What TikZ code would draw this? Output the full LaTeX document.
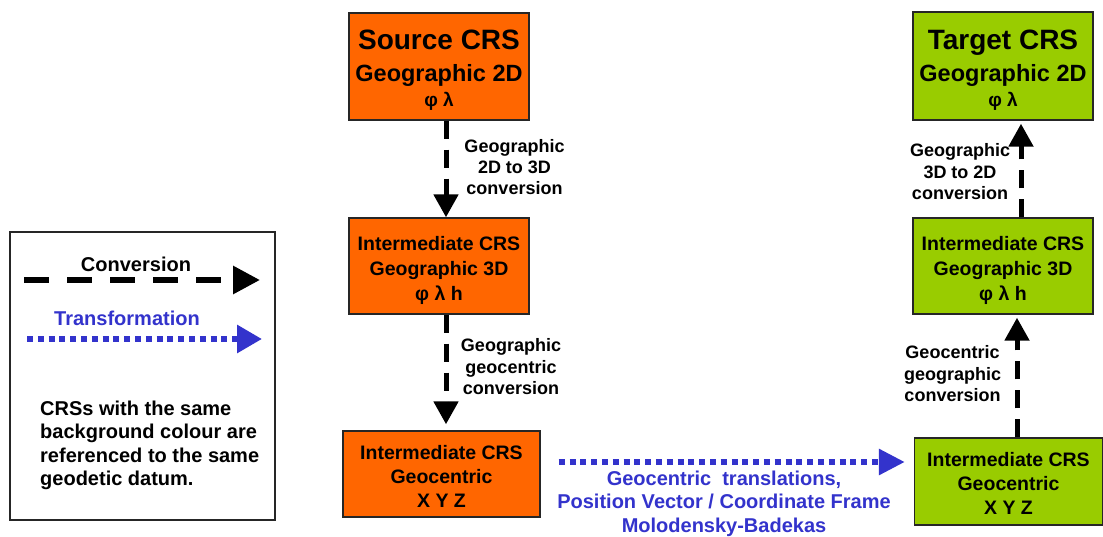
\documentclass[tikz,border=0pt]{standalone}
\usepackage{fontspec}
\setmainfont{Liberation Sans}
\usetikzlibrary{arrows.meta}
\definecolor{crsorange}{HTML}{FF6600}
\definecolor{crsgreen}{HTML}{99CC00}
\definecolor{trblue}{HTML}{3333CC}
\begin{document}
\begin{tikzpicture}[x=1pt,y=-1pt,
  crsbox/.style={draw=black!85, line width=1.4pt, inner sep=0pt},
  ttl/.style={anchor=base, inner sep=0pt, font=\fontsize{28}{32}\selectfont\bfseries},
  sub/.style={anchor=base, inner sep=0pt, font=\fontsize{23.5}{27}\selectfont\bfseries},
  grk/.style={anchor=base, inner sep=0pt, font=\fontsize{19}{22}\selectfont\bfseries},
  mid/.style={anchor=base, inner sep=0pt, font=\fontsize{19.5}{23}\selectfont\bfseries},
  lbl/.style={anchor=base, inner sep=0pt, font=\fontsize{18}{21}\selectfont\bfseries},
  blbl/.style={anchor=base, inner sep=0pt, text=trblue, font=\fontsize{20}{23}\selectfont\bfseries},
  lgd/.style={anchor=base west, inner sep=0pt, font=\fontsize{20}{23.5}\selectfont\bfseries},
  convarrow/.style={line width=5pt, dash pattern=on 18pt off 11pt, -{Triangle[length=23pt,width=24pt]}},
  transarrow/.style={trblue, line width=6pt, dash pattern=on 6pt off 4.8pt, -{Triangle[length=26pt,width=25pt]}}
]
\useasboundingbox (0,0) rectangle (1103,537);
\fill[white] (0,0) rectangle (1103,537);

% ---- CRS boxes
\node[crsbox, fill=crsorange, minimum width=180pt, minimum height=107pt] (src) at (439,66.5) {};
\node[crsbox, fill=crsorange, minimum width=180pt, minimum height=96pt] (l3d) at (439,266) {};
\node[crsbox, fill=crsorange, minimum width=197pt, minimum height=86pt] (lgeo) at (441.5,474) {};
\node[crsbox, fill=crsgreen, minimum width=180pt, minimum height=108pt] (tgt) at (1003,66) {};
\node[crsbox, fill=crsgreen, minimum width=180pt, minimum height=96pt] (r3d) at (1003,266) {};
\node[crsbox, fill=crsgreen, minimum width=188pt, minimum height=87pt] (rgeo) at (1008.5,481.5) {};

% ---- box texts
\node[ttl] (src1) at (439,50) {Source CRS};
\node[sub] (src2) at (439,82) {Geographic 2D};
\node[grk] (src3) at (439,107) {φ λ};
\node[mid] (l3d1) at (439,251) {Intermediate CRS};
\node[mid] (l3d2) at (439,276) {Geographic 3D};
\node[mid] (l3d3) at (439,301) {φ λ h};
\node[mid] (lgeo1) at (441.5,459) {Intermediate CRS};
\node[mid] (lgeo2) at (441.5,483) {Geocentric};
\node[mid] (lgeo3) at (441.5,507) {X Y Z};
\node[ttl] (tgt1) at (1003,50) {Target CRS};
\node[sub] (tgt2) at (1003,82) {Geographic 2D};
\node[grk] (tgt3) at (1003,107) {φ λ};
\node[mid] (r3d1) at (1003,251) {Intermediate CRS};
\node[mid] (r3d2) at (1003,276) {Geographic 3D};
\node[mid] (r3d3) at (1003,301) {φ λ h};
\node[mid] (rgeo1) at (1008.5,466) {Intermediate CRS};
\node[mid] (rgeo2) at (1008.5,490) {Geocentric};
\node[mid] (rgeo3) at (1008.5,514) {X Y Z};

% ---- connectors
\draw[convarrow] ([xshift=7pt]src.south) -- ([xshift=7pt]l3d.north);
\draw[convarrow, shorten >=6pt] ([xshift=7pt]l3d.south) -- ([xshift=4.5pt]lgeo.north);
\draw[transarrow, shorten <=18pt, shorten >=9pt] ([yshift=12pt]lgeo.east) -- ([yshift=19.5pt]rgeo.west);
\draw[convarrow, shorten >=3pt] ([xshift=8.5pt]rgeo.north) -- ([xshift=14pt]r3d.south);
\draw[convarrow, shorten >=3pt] ([xshift=18pt]r3d.north) -- ([xshift=18pt]tgt.south);

% ---- connector labels
\node[lbl] (c1a) at (514.5,153) {Geographic};
\node[lbl] (c1b) at (514.5,174) {2D to 3D};
\node[lbl] (c1c) at (514.5,195) {conversion};
\node[lbl] (c2a) at (511,352) {Geographic};
\node[lbl] (c2b) at (511,373) {geocentric};
\node[lbl] (c2c) at (511,394) {conversion};
\node[lbl] (c3a) at (952.5,358) {Geocentric};
\node[lbl] (c3b) at (952.5,380) {geographic};
\node[lbl] (c3c) at (952.5,401) {conversion};
\node[lbl] (c4a) at (960,157) {Geographic};
\node[lbl] (c4b) at (960,179) {3D to 2D};
\node[lbl] (c4c) at (960,200) {conversion};
\node[blbl] (t1) at (724,485) {Geocentric\ \ translations,};
\node[blbl] (t2) at (724,508) {Position Vector / Coordinate Frame};
\node[blbl] (t3) at (724,532) {Molodensky-Badekas};

% ---- legend
\node[draw=black!85, line width=1.3pt, minimum width=265pt, minimum height=288pt, inner sep=0pt] (legend) at (142.5,376) {};
\node[anchor=base, inner sep=0pt, font=\fontsize{20}{23}\selectfont\bfseries] (lconv) at (136,272) {Conversion};
\coordinate (cva) at (24,280);
\coordinate (cvb) at (260,280);
\draw[line width=6pt, dash pattern=on 25pt off 18pt, -{Triangle[length=27pt,width=27pt]}] (cva) -- (cvb);
\node[anchor=base, inner sep=0pt, text=trblue, font=\fontsize{20}{23}\selectfont\bfseries] (ltr) at (127,326) {Transformation};
\coordinate (tra) at (27,339);
\coordinate (trb) at (262,339);
\draw[trblue, line width=6pt, dash pattern=on 6pt off 4.8pt, -{Triangle[length=25pt,width=27pt]}] (tra) -- (trb);
\node[lgd] (lg1) at (40,415) {CRSs with the same};
\node[lgd] (lg2) at (40,438) {background colour are};
\node[lgd] (lg3) at (40,462) {referenced to the same};
\node[lgd] (lg4) at (40,485) {geodetic datum.};
\end{tikzpicture}
\end{document}
